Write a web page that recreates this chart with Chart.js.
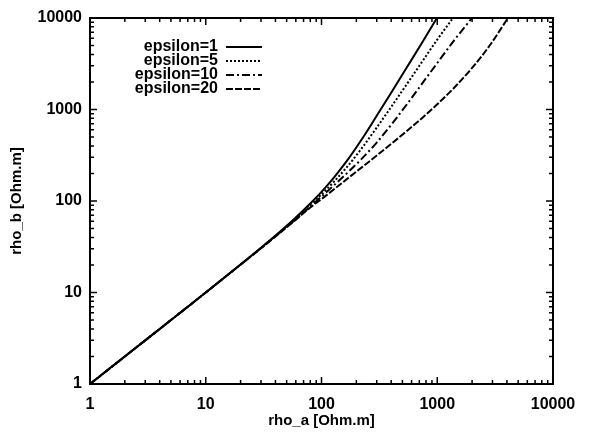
<!DOCTYPE html>
<html>
<head>
<meta charset="utf-8">
<script src="https://cdn.jsdelivr.net/npm/chart.js@4.4.1/dist/chart.umd.min.js"></script>
<style>
  html, body { margin: 0; padding: 0; background: #ffffff; }
  #wrap { width: 592px; height: 434px; }
</style>
</head>
<body>
<div id="wrap"><canvas id="chart" width="592" height="434"></canvas></div>
<script>
// rho_b as a function of rho_a for several permittivity values (log-log)
const seriesLabels = ['epsilon=1', 'epsilon=5', 'epsilon=10', 'epsilon=20'];

const rhoA_eps1  = [1, 3, 10, 20, 30, 45, 60, 80, 100, 130, 170, 220, 300, 400, 550, 750, 995];
const rhoB_eps1  = [1, 3, 10, 20.2, 30.8, 47.6, 66, 94, 126, 185, 287, 461, 853, 1525, 2926, 5535, 10000];

const rhoA_eps5  = [1, 3, 10, 20, 30, 45, 60, 80, 100, 130, 170, 220, 300, 400, 550, 750, 1000, 1368];
const rhoB_eps5  = [1, 3, 10, 20.2, 30.6, 47.2, 65.2, 91.8, 118, 166, 244, 369, 635, 1067, 1919, 3412, 5808, 10000];

const rhoA_eps10 = [1, 3, 10, 20, 30, 45, 60, 80, 100, 130, 170, 220, 300, 400, 550, 750, 1000, 1400, 1995];
const rhoB_eps10 = [1, 3, 10, 20.2, 30.5, 46.6, 63, 87, 112, 151, 207, 285, 435, 681, 1151, 1963, 3221, 5700, 10000];

const rhoA_eps20 = [1, 3, 10, 20, 30, 45, 60, 80, 100, 130, 170, 220, 300, 400, 550, 750, 1000, 1400, 2000, 2800, 4086];
const rhoB_eps20 = [1, 3, 10, 20.2, 30.4, 46.2, 62.5, 85, 105, 136, 178, 230, 314, 421, 586, 820, 1140, 1730, 2851, 4887, 10000];

// axis ticks: labelled decades plus unlabelled minor ticks
const majorTicks = [1, 10, 100, 1000, 10000];
const minorTicks = [2, 3, 4, 5, 6, 7, 8, 9,
                    20, 30, 40, 50, 60, 70, 80, 90,
                    200, 300, 400, 500, 600, 700, 800, 900,
                    2000, 3000, 4000, 5000, 6000, 7000, 8000, 9000];

const lineStyles = [[], [2, 2], [8, 3, 2, 3], [7, 2]];

const FONT = "'Liberation Sans', Arial, Helvetica, sans-serif";
const LABEL_FONT = { family: FONT, size: 16, weight: 'bold' };
const TITLE_FONT = { family: FONT, size: 15, weight: 'bold' };

function pairs(xs, ys) {
  return xs.map((x, i) => ({ x: x, y: ys[i] }));
}

const seriesData = [
  pairs(rhoA_eps1, rhoB_eps1),
  pairs(rhoA_eps5, rhoB_eps5),
  pairs(rhoA_eps10, rhoB_eps10),
  pairs(rhoA_eps20, rhoB_eps20)
];

const datasets = seriesData.map((pts, i) => ({
  label: seriesLabels[i],
  data: pts,
  showLine: true,
  borderColor: '#000000',
  backgroundColor: '#000000',
  borderWidth: 2,
  borderDash: lineStyles[i],
  pointRadius: 0,
  cubicInterpolationMode: 'monotone',
  fill: false
}));

function allTicks() {
  return majorTicks.concat(minorTicks).sort((a, b) => a - b)
    .map(v => ({ value: v, major: majorTicks.includes(v) }));
}

// box frame, inward ticks on all four sides, and the key in the upper left
const framePlugin = {
  id: 'frameAndKey',
  afterDraw(chart) {
    const { ctx, chartArea: a, scales } = chart;
    ctx.save();
    ctx.strokeStyle = '#000000';
    ctx.lineWidth = 2;
    ctx.strokeRect(a.left, a.top, a.right - a.left, a.bottom - a.top);

    ctx.lineWidth = 1.5;
    const tickLen = v => (majorTicks.includes(v) ? 7 : 4);
    scales.x.ticks.forEach(t => {
      const px = scales.x.getPixelForValue(t.value);
      const l = tickLen(t.value);
      ctx.beginPath();
      ctx.moveTo(px, a.bottom); ctx.lineTo(px, a.bottom - l);
      ctx.moveTo(px, a.top); ctx.lineTo(px, a.top + l);
      ctx.stroke();
    });
    scales.y.ticks.forEach(t => {
      const py = scales.y.getPixelForValue(t.value);
      const l = tickLen(t.value);
      ctx.beginPath();
      ctx.moveTo(a.left, py); ctx.lineTo(a.left + l, py);
      ctx.moveTo(a.right, py); ctx.lineTo(a.right - l, py);
      ctx.stroke();
    });

    // key
    ctx.font = LABEL_FONT.weight + ' ' + LABEL_FONT.size + 'px ' + FONT;
    ctx.fillStyle = '#000000';
    ctx.textAlign = 'right';
    ctx.textBaseline = 'middle';
    chart.data.datasets.forEach((ds, i) => {
      const y = a.top + 29 + i * 14;
      ctx.fillText(ds.label, a.left + 128, y);
      ctx.setLineDash(ds.borderDash || []);
      ctx.lineWidth = 2;
      ctx.beginPath();
      ctx.moveTo(a.left + 136, y);
      ctx.lineTo(a.left + 172, y);
      ctx.stroke();
    });
    ctx.restore();
  }
};

new Chart(document.getElementById('chart'), {
  type: 'scatter',
  data: { datasets: datasets },
  plugins: [framePlugin],
  options: {
    responsive: false,
    animation: false,
    devicePixelRatio: 1,
    layout: { padding: { top: 18, right: 39, bottom: 0, left: 0 } },
    plugins: { legend: { display: false }, tooltip: { enabled: false } },
    scales: {
      x: {
        type: 'logarithmic',
        min: 1,
        max: 10000,
        afterBuildTicks: s => { s.ticks = allTicks(); },
        afterFit: s => { s.height = 50; },
        grid: { display: false, drawTicks: false },
        border: { display: false },
        ticks: {
          autoSkip: false,
          maxRotation: 0,
          padding: 11,
          color: '#000000',
          font: LABEL_FONT,
          callback: v => (majorTicks.includes(v) ? String(v) : '')
        },
        title: {
          display: true,
          text: 'rho_a [Ohm.m]',
          color: '#000000',
          font: TITLE_FONT,
          padding: { top: 0, bottom: 4 }
        }
      },
      y: {
        type: 'logarithmic',
        min: 1,
        max: 10000,
        afterBuildTicks: s => { s.ticks = allTicks(); },
        afterFit: s => { s.width = 90; },
        grid: { display: false, drawTicks: false },
        border: { display: false },
        ticks: {
          autoSkip: false,
          padding: 8,
          color: '#000000',
          font: LABEL_FONT,
          callback: v => (majorTicks.includes(v) ? String(v) : '')
        },
        title: {
          display: true,
          text: 'rho_b [Ohm.m]',
          color: '#000000',
          font: TITLE_FONT,
          padding: { top: 8, bottom: 0 }
        }
      }
    }
  }
});
</script>
</body>
</html>
